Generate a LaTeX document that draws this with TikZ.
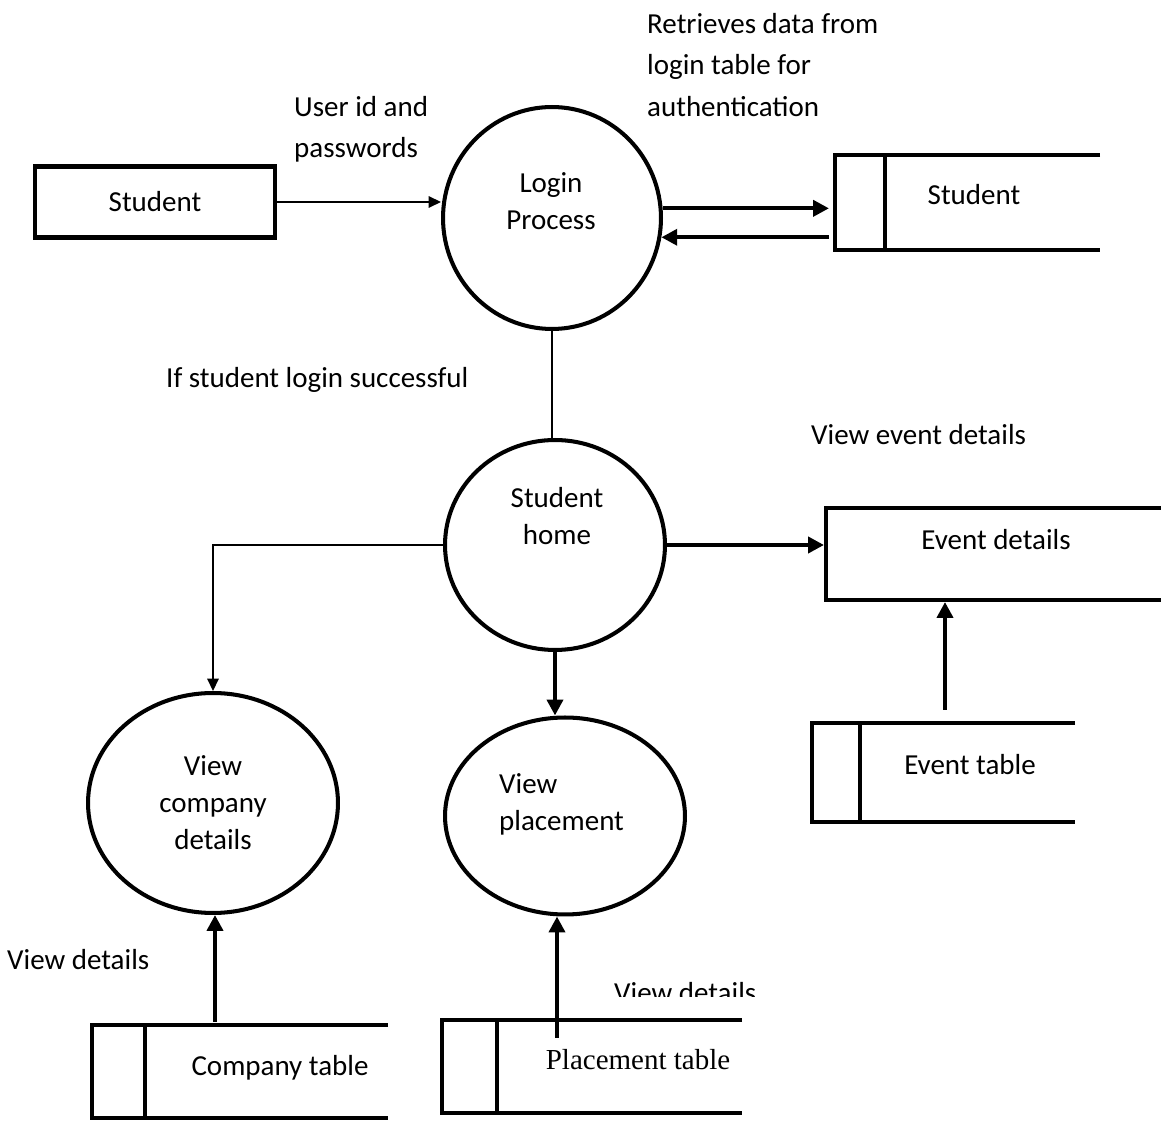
\documentclass[tikz,border=0pt]{standalone}
\usepackage{fontspec}
\setmainfont{Carlito}
\newfontfamily\timesfont{Liberation Serif}
\usetikzlibrary{shapes.geometric, arrows.meta}

\tikzset{
  proc/.style={ellipse, draw, line width=2.3pt, inner sep=0pt},
  entity/.style={rectangle, draw, line width=2.3pt},
  lbl/.style={align=center, font=\fontsize{16.5}{21}\selectfont},
  note/.style={align=left, anchor=west, font=\fontsize{16.5}{23.5}\selectfont},
  flow/.style={line width=2.3pt, -{Triangle[length=9pt,width=9pt]}},
  thinflow/.style={line width=0.85pt, -{Triangle[length=7pt,width=6.5pt]}},
  storeline/.style={line width=2.5pt},
}

\begin{document}
\begin{tikzpicture}[x=0.02cm, y=-0.02cm]
\clip (0,0) rectangle (1161,1121);

% external entity
\node[entity, lbl, minimum width=4.8cm, minimum height=1.42cm] (stu) at (155,202) {Student};

% processes
\node[proc, minimum width=4.36cm, minimum height=4.44cm] (login) at (552,218) {};
\node[lbl] (loginlbl) at (551,201) {Login\\Process};
\node[proc, minimum width=4.4cm, minimum height=4.2cm] (shome) at (555,545) {};
\node[lbl] (shomelbl) at (557,516) {Student\\home};
\node[proc, minimum width=5cm, minimum height=4.4cm] (vcomp) at (213,803) {};
\node[lbl] (vcomplbl) at (213,803) {View\\company\\details};
\node[proc, minimum width=4.8cm, minimum height=3.94cm] (vplace) at (565,816) {};
\node[lbl, align=left, anchor=west] (vplacelbl) at (493,804) {View\\placement};

% event details box
\node[entity, minimum width=7cm, minimum height=1.84cm] (evdet) at (1001,554) {};
\node[lbl] (evdetlbl) at (996,540) {Event details};

% data stores
\draw[storeline] (1100,155) -- (835,155) -- (835,250) -- (1100,250);
\draw[storeline] (885,155) -- (885,250);
\node[lbl] (sstore) at (974,195) {Student};
\coordinate (sstoreL) at (829,200);

\draw[storeline] (1075,723) -- (812,723) -- (812,822) -- (1075,822);
\draw[storeline] (860,723) -- (860,822);
\node[lbl] (etab) at (970,765) {Event table};
\coordinate (etabtop) at (945,710);

\draw[storeline] (388,1025) -- (92,1025) -- (92,1118) -- (388,1118);
\draw[storeline] (145,1025) -- (145,1118);
\node[lbl] (ctab) at (280,1068) {Company table};
\coordinate (ctabtop) at (215,1022);

\draw[storeline] (742,1020) -- (442,1020) -- (442,1113) -- (742,1113);
\draw[storeline] (497,1020) -- (497,1113);
\node[lbl, font=\fontsize{16.5}{21}\timesfont] (ptab) at (638,1060) {Placement table};
\coordinate (ptabin) at (557,1038);

% flows
\draw[thinflow] (stu.east) -- (stu.east -| login.west);
\draw[flow] (login.5) -- (login.5 -| sstoreL);
\draw[flow] (sstoreL |- login.-10) -- (login.-10);
\draw[line width=0.85pt] (login.south) -- (login.south |- shome.north);
\draw[flow] (shome.east) -- (shome.east -| evdet.west);
\draw[thinflow] (shome.west) -| (vcomp.north);
\draw[flow] (shome.south) -- (shome.south |- vplace.north);
\draw[flow] (etabtop) -- (etabtop |- evdet.south);
\draw[flow] (ctabtop) -- (ctabtop |- vcomp.south);
\draw[flow] (ptabin) -- (ptabin |- vplace.south);

% notes
\node[note] (userid) at (288,129) {User id and\\passwords};
\node[note] (retrieve) at (641,65) {Retrieves data from\\login table for\\authentication};
\node[note] (ifok) at (160,380) {If student login successful};
\node[note] (viewev) at (805,435) {View event details};
\node[note] (viewcomp) at (1,960) {View details};
\begin{scope}
\clip (600,960) rectangle (800,997);
\node[note] (viewplace) at (608,993) {View details};
\end{scope}
\end{tikzpicture}
\end{document}
